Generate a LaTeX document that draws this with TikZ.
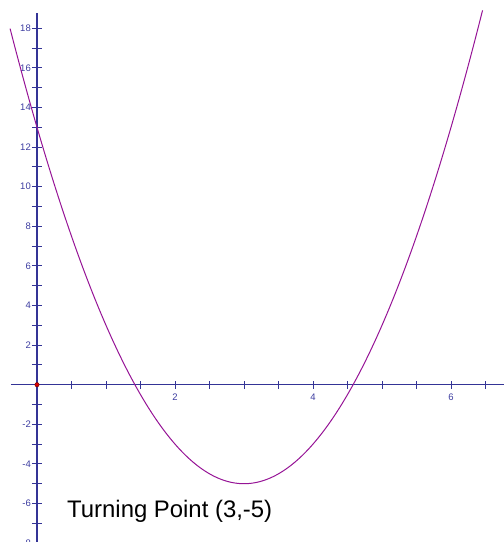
\documentclass[tikz,border=0pt]{standalone}
\usepackage{fontspec}
\setmainfont{Liberation Sans}
\definecolor{axisblue}{RGB}{52,52,150}
\definecolor{lblblue}{RGB}{60,60,160}
\definecolor{curvepurple}{RGB}{150,20,150}
\begin{document}
\begin{tikzpicture}[x=69pt,y=19.8pt,
  axisline/.style={draw=axisblue,line width=1.1pt},
  tickmark/.style={draw=axisblue,line width=1pt},
  ticklbl/.style={text=lblblue,font=\fontsize{9.5}{10}\selectfont,inner sep=0pt},
  curveline/.style={draw=curvepurple,line width=1pt},
  caption/.style={font=\fontsize{23.9}{26}\selectfont,inner sep=0pt,anchor=base west,text=black}]
\useasboundingbox (-37pt,-157.3pt) rectangle (467pt,384.7pt);
\draw[axisline] (-26pt,0) -- (467pt,0);
\draw[axisline] (0,-160pt) -- (0,371.7pt);
\foreach \i in {1,...,13} {
  \draw[tickmark] (\i*0.5,-4pt) -- (\i*0.5,4pt);
}
\foreach \j in {-8,...,18} {
  \draw[tickmark] (-5pt,\j) -- (5pt,\j);
}
\foreach \v in {2,4,6} {
  \node[ticklbl,anchor=north] (xl\v) at (\v,-9pt) {\v};
}
\foreach \v in {-8,-6,-4,-2,2,4,6,8,10,12,14,16,18} {
  \node[ticklbl,anchor=east] (yl\v) at (-6pt,\v) {\v};
}
\draw[curveline] plot[domain=-0.39:6.46,samples=200,smooth] (\x,{2*(\x-3)^2-5});
\fill[red!85!black,draw=red!40!black,line width=0.4pt] (0,0) circle (2.2pt);
\node[caption] (tp) at (30pt,-132.3pt) {Turning Point (3,-5)};
\end{tikzpicture}
\end{document}
